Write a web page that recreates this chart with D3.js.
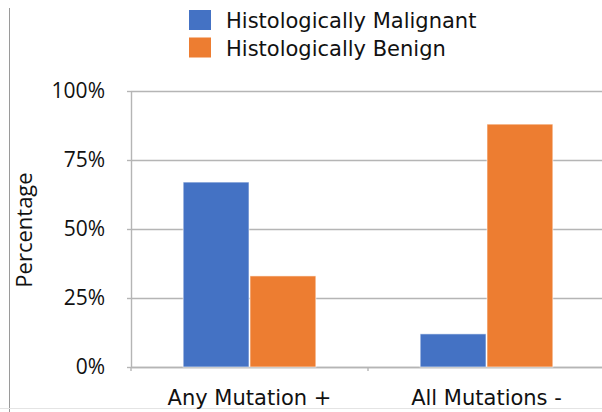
<!DOCTYPE html>
<html>
<head>
<meta charset="utf-8">
<script src="https://cdn.jsdelivr.net/npm/d3@7"></script>
<style>
  body { margin: 0; background: #fff; }
  svg { display: block; }
</style>
</head>
<body>
<div id="chart"></div>
<script>
// chart data
var categories = ["Any Mutation +", "All Mutations -"];
var seriesNames = ["Histologically Malignant", "Histologically Benign"];
var malignant = [0.67, 0.12];
var benign = [0.33, 0.88];
var yTicks = [0, 0.25, 0.5, 0.75, 1];
var colorList = ["#4472c4", "#ed7d31"];

var width = 602, height = 412;
var margin = {left: 131, right: -3, top: 91, bottom: 45};
var labelFont = "'DejaVu Sans', sans-serif";
var tickFont = "'Open Sans', sans-serif";

var svg = d3.select("#chart").append("svg")
    .attr("width", width)
    .attr("height", height);

// frame edges from the source page
svg.append("line")
    .attr("x1", 9.5).attr("x2", 9.5)
    .attr("y1", 8).attr("y2", height)
    .attr("stroke", "#9a9a9a").attr("stroke-width", 1);
svg.append("line")
    .attr("x1", 0).attr("x2", width)
    .attr("y1", 408.5).attr("y2", 408.5)
    .attr("stroke", "#e4e4e4").attr("stroke-width", 1);

var y = d3.scaleLinear()
    .domain([0, 1])
    .range([height - margin.bottom, margin.top]);

var x0 = d3.scaleBand()
    .domain(categories)
    .range([margin.left, width - margin.right])
    .paddingInner(0).paddingOuter(0);

var x1 = d3.scaleBand()
    .domain(seriesNames)
    .range([0, x0.bandwidth()])
    .paddingInner(0.015)
    .paddingOuter(0.78);

var color = d3.scaleOrdinal().domain(seriesNames).range(colorList);

// gridlines
var plotW = width - margin.right - margin.left;
svg.append("g")
    .attr("class", "grid")
    .attr("transform", "translate(" + margin.left + ",0)")
    .call(d3.axisLeft(y).tickValues(yTicks).tickSize(-plotW).tickFormat(""))
    .call(g => g.select(".domain").remove())
    .call(g => g.selectAll("line").attr("stroke", "#b5b5b5").attr("stroke-width", 1.4));

// y axis with short ticks and labels
svg.append("g")
    .attr("class", "yaxis")
    .attr("transform", "translate(" + margin.left + ",0)")
    .call(d3.axisLeft(y).tickValues(yTicks).tickSize(4).tickSizeOuter(0).tickPadding(22)
        .tickFormat(d3.format(".0%")))
    .call(g => g.select(".domain").attr("stroke", "#b5b5b5").attr("stroke-width", 1.4))
    .call(g => g.selectAll("line").attr("stroke", "#b5b5b5").attr("stroke-width", 1.4))
    .call(g => g.selectAll("text")
        .style("font-family", tickFont).style("font-size", "21px").attr("fill", "#111"));

// x axis
var catEdges = categories.map(c => x0(c)).concat([x0.range()[1]]);
svg.append("g")
    .attr("class", "xaxis")
    .attr("transform", "translate(0," + y(0) + ")")
    .call(d3.axisBottom(x0).tickValues([]).tickSizeOuter(0))
    .call(g => g.select(".domain").attr("stroke", "#b5b5b5").attr("stroke-width", 1.4))
    .call(g => g.selectAll("line.edge").data(catEdges).join("line").attr("class", "edge")
        .attr("x1", d => d).attr("x2", d => d).attr("y1", 0).attr("y2", 4)
        .attr("stroke", "#b5b5b5").attr("stroke-width", 1.4));

svg.append("g").selectAll("text.cat")
    .data(categories)
    .join("text").attr("class", "cat")
    .attr("x", d => x0(d) + x0.bandwidth() / 2)
    .attr("y", 405)
    .attr("text-anchor", "middle")
    .style("font-family", labelFont)
    .style("font-size", "21px")
    .attr("fill", "#111")
    .text(d => d);

// bars
var rows = categories.map((c, i) => ({cat: c, vals: [malignant[i], benign[i]]}));
svg.append("g").selectAll("g.group")
    .data(rows)
    .join("g").attr("class", "group")
    .attr("transform", d => "translate(" + x0(d.cat) + ",0)")
    .selectAll("rect")
    .data(d => d.vals.map((v, j) => ({key: seriesNames[j], value: v})))
    .join("rect")
    .attr("x", d => x1(d.key))
    .attr("width", x1.bandwidth())
    .attr("y", d => y(d.value))
    .attr("height", d => y(0) - y(d.value))
    .attr("fill", d => color(d.key))
    .attr("stroke", "#fff")
    .attr("stroke-opacity", 0.6)
    .attr("stroke-width", 1);

// y title
svg.append("text")
    .attr("transform", "rotate(-90)")
    .attr("x", -230)
    .attr("y", 32)
    .attr("text-anchor", "middle")
    .style("font-family", tickFont)
    .style("font-size", "22px")
    .attr("fill", "#111")
    .text("Percentage");

// legend
var legend = svg.append("g").attr("class", "legendGroup")
    .attr("transform", "translate(189,10)");
var item = legend.selectAll("g.item")
    .data(seriesNames)
    .join("g").attr("class", "item")
    .attr("transform", (d, i) => "translate(0," + (i * 27.5) + ")");
item.append("rect")
    .attr("width", 22).attr("height", 20)
    .attr("fill", d => color(d));
item.append("text")
    .attr("x", 37)
    .attr("y", 18)
    .style("font-family", labelFont)
    .style("font-size", "21px")
    .attr("fill", "#111")
    .text(d => d);
</script>
</body>
</html>
